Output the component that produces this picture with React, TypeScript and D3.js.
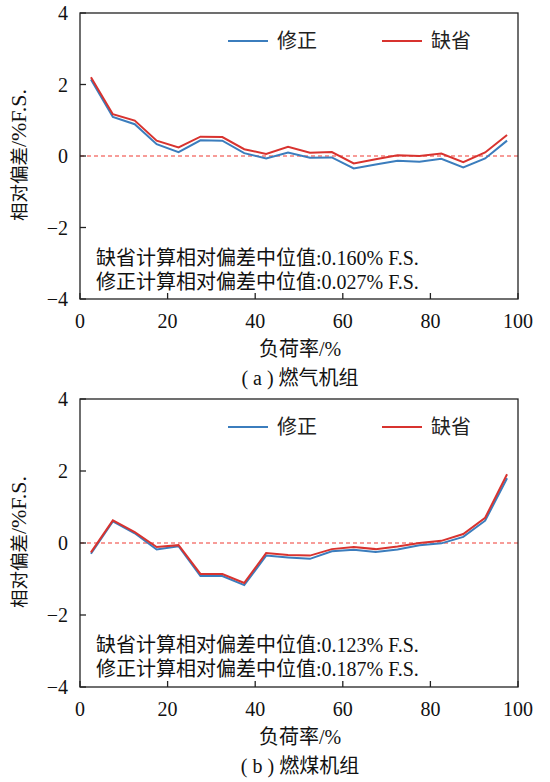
import * as d3 from 'd3';
import React, { useRef, useEffect } from 'react';

// load rate (%) of each test point
const loadRate = [2.5, 7.5, 12.5, 17.5, 22.5, 27.5, 32.5, 37.5, 42.5, 47.5, 52.5, 57.5, 62.5, 67.5, 72.5, 77.5, 82.5, 87.5, 92.5, 97.5];

// (a) gas units
const gasDefault = [2.2, 1.17, 0.99, 0.43, 0.24, 0.54, 0.53, 0.19, 0.06, 0.26, 0.09, 0.11, -0.21, -0.09, 0.02, 0.0, 0.07, -0.17, 0.1, 0.59];
const gasCorrected = [2.14, 1.09, 0.89, 0.33, 0.11, 0.44, 0.43, 0.08, -0.07, 0.1, -0.05, -0.04, -0.35, -0.24, -0.13, -0.16, -0.08, -0.32, -0.07, 0.43];

// (b) coal units
const coalDefault = [-0.26, 0.63, 0.3, -0.11, -0.06, -0.86, -0.86, -1.11, -0.28, -0.33, -0.35, -0.17, -0.11, -0.17, -0.1, 0.0, 0.06, 0.25, 0.7, 1.91];
const coalCorrected = [-0.3, 0.6, 0.27, -0.18, -0.09, -0.92, -0.92, -1.17, -0.35, -0.4, -0.44, -0.23, -0.19, -0.25, -0.18, -0.06, -0.01, 0.17, 0.62, 1.8];

const xTicks = [0, 20, 40, 60, 80, 100];
const yTicks = [-4, -2, 0, 2, 4];
const legendNames = ['修正', '缺省'];

const panels = [
    { top: 13, bottom: 299, corrected: gasCorrected, dflt: gasDefault,
      notes: ['缺省计算相对偏差中位值:0.160% F.S.', '修正计算相对偏差中位值:0.027% F.S.'],
      caption: '( a ) 燃气机组' },
    { top: 399, bottom: 687, corrected: coalCorrected, dflt: coalDefault,
      notes: ['缺省计算相对偏差中位值:0.123% F.S.', '修正计算相对偏差中位值:0.187% F.S.'],
      caption: '( b ) 燃煤机组' },
];

const BLUE = '#3b7dbd';
const RED = '#d8332f';
const FONT = '"Liberation Serif", "Noto Sans CJK SC", serif';

function App() {
    const ref = useRef<SVGSVGElement>(null);

    useEffect(() => {
        const svg = d3.select(ref.current);
        svg.selectAll('*').remove();

        const left = 80, right = 518;
        const x = d3.scaleLinear().domain([0, 100]).range([left, right]);

        panels.forEach(p => {
            const y = d3.scaleLinear().domain([-4, 4]).range([p.bottom, p.top]);
            const g = svg.append('g');

            // zero reference line
            g.append('line')
                .attr('x1', x(0)).attr('x2', x(100))
                .attr('y1', y(0)).attr('y2', y(0))
                .attr('stroke', '#f03a32')
                .attr('stroke-width', 1.2)
                .attr('stroke-dasharray', '4,3');

            const line = d3.line<number>()
                .x((d, i) => x(loadRate[i]))
                .y(d => y(d));

            g.append('path').datum(p.corrected)
                .attr('d', line).attr('fill', 'none')
                .attr('stroke', BLUE).attr('stroke-width', 2);
            g.append('path').datum(p.dflt)
                .attr('d', line).attr('fill', 'none')
                .attr('stroke', RED).attr('stroke-width', 2);

            // frame
            g.append('rect')
                .attr('x', left).attr('y', p.top)
                .attr('width', right - left).attr('height', p.bottom - p.top)
                .attr('fill', 'none').attr('stroke', '#222').attr('stroke-width', 1.3);

            // ticks (inward)
            g.selectAll('.xt').data(xTicks).enter().append('line')
                .attr('x1', d => x(d)).attr('x2', d => x(d))
                .attr('y1', p.bottom).attr('y2', p.bottom - 6)
                .attr('stroke', '#222').attr('stroke-width', 1.3);
            g.selectAll('.yt').data(yTicks).enter().append('line')
                .attr('x1', left).attr('x2', left + 6)
                .attr('y1', d => y(d)).attr('y2', d => y(d))
                .attr('stroke', '#222').attr('stroke-width', 1.3);

            g.selectAll('.xl').data(xTicks).enter().append('text')
                .attr('x', d => x(d)).attr('y', p.bottom + 29)
                .attr('text-anchor', 'middle')
                .attr('font-family', FONT).attr('font-size', 20).attr('fill', '#111')
                .text(d => d);
            g.selectAll('.yl').data(yTicks).enter().append('text')
                .attr('x', 68).attr('y', d => y(d) + 7)
                .attr('text-anchor', 'end')
                .attr('font-family', FONT).attr('font-size', 20).attr('fill', '#111')
                .text(d => d < 0 ? '\u2212' + Math.abs(d) : d);

            // y title
            const midY = (p.top + p.bottom) / 2;
            const yt = g.append('text')
                .attr('transform', `translate(26,${midY - 1}) rotate(-90)`)
                .attr('text-anchor', 'middle')
                .attr('font-family', FONT).attr('fill', '#111');
            yt.append('tspan').attr('font-size', 18.5).text('相对偏差');
            yt.append('tspan').attr('font-size', 22).text('/%F.S.');

            // legend
            const ly = p.top + 28;
            const items = [
                { name: legendNames[0], color: BLUE, x0: 228 },
                { name: legendNames[1], color: RED, x0: 382 },
            ];
            items.forEach(it => {
                g.append('line')
                    .attr('x1', it.x0).attr('x2', it.x0 + 40)
                    .attr('y1', ly).attr('y2', ly)
                    .attr('stroke', it.color).attr('stroke-width', 2);
                g.append('text')
                    .attr('x', it.x0 + 49).attr('y', ly + 7)
                    .attr('font-family', FONT).attr('font-size', 20).attr('fill', '#222')
                    .text(it.name);
            });

            // notes
            p.notes.forEach((t, i) => {
                g.append('text')
                    .attr('x', 96).attr('y', y(-2) + 37 + i * 24)
                    .attr('font-family', FONT).attr('font-size', 20).attr('fill', '#111')
                    .text(t);
            });

            // x title and caption
            g.append('text')
                .attr('x', 300).attr('y', p.bottom + 57)
                .attr('text-anchor', 'middle')
                .attr('font-family', FONT).attr('font-size', 20).attr('fill', '#111')
                .text('负荷率/%');
            g.append('text')
                .attr('x', 300).attr('y', p.bottom + 86)
                .attr('text-anchor', 'middle')
                .attr('font-family', FONT).attr('font-size', 20).attr('fill', '#111')
                .text(p.caption);
        });
    }, []);

    return (
        <svg ref={ref} width={550} height={782}
            style={{ position: 'absolute', left: 0, top: 0, background: '#fff' }} />
    );
}

export default App;
